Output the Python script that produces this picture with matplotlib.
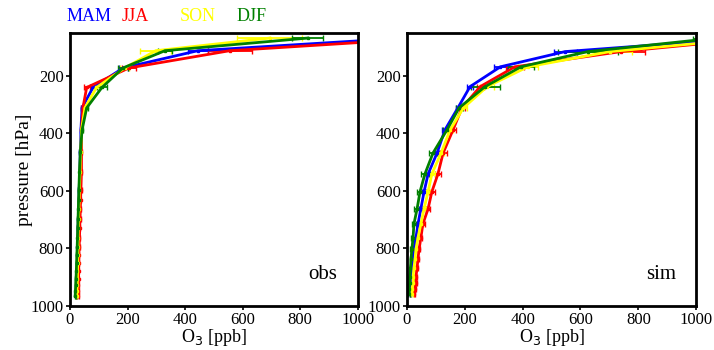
import numpy as np
import matplotlib.pyplot as plt

plt.rcParams['font.family'] = ['Liberation Serif', 'DejaVu Serif']

seasons = ['MAM', 'JJA', 'SON', 'DJF']
colors = ['#0000ff', '#ff0000', '#ffff00', '#008000']

# observations
obs_p = [68, 112, 172, 240, 311, 388, 464, 533, 596, 630, 663, 697, 730, 764,
         795, 824, 852, 880, 905, 928, 948, 965]
obs_mam = [1160, 444, 185, 80, 42, 38, 36, 34, 32, 31, 30, 29, 28, 27, 26, 26, 25, 25, 24, 24, 23, 23]
obs_jja = [1250, 555, 205, 58, 45, 40, 40, 40, 38, 37, 36, 35, 34, 33, 32, 31, 31, 30, 30, 29, 28, 28]
obs_son = [694, 298, 190, 92, 52, 40, 37, 35, 33, 32, 31, 30, 29, 28, 28, 27, 27, 26, 26, 25, 24, 24]
obs_djf = [826, 330, 184, 111, 58, 42, 36, 33, 31, 30, 29, 28, 27, 26, 25, 24, 23, 22, 21, 20, 19, 18]
obs_err_mam = [60, 35, 15, 8, 4, 3, 3, 3, 3, 2, 2, 2, 2, 2, 2, 2, 2, 2, 2, 2, 2, 2]
obs_err_jja = [60, 76, 25, 10, 5, 3, 3, 3, 3, 2, 2, 2, 2, 2, 2, 2, 2, 2, 2, 2, 2, 2]
obs_err_son = [112, 54, 15, 8, 4, 3, 3, 3, 3, 2, 2, 2, 2, 2, 2, 2, 2, 2, 2, 2, 2, 2]
obs_err_djf = [54, 24, 17, 17, 5, 3, 3, 3, 3, 2, 2, 2, 2, 2, 2, 2, 2, 2, 2, 2, 2, 2]

# simulation
sim_p = [70, 115, 168, 237, 311, 388, 468, 541, 603, 662, 715, 763, 802, 836,
         868, 899, 920, 941, 958]
sim_mam = [1150, 547, 323, 218, 176, 131, 104, 73, 59, 48, 38, 31, 24, 21, 19, 17, 14, 14, 12]
sim_jja = [1200, 741, 373, 253, 190, 159, 125, 107, 86, 73, 55, 48, 42, 38, 35, 31, 31, 28, 26]
sim_son = [1180, 702, 418, 277, 195, 149, 118, 86, 73, 59, 48, 38, 31, 28, 24, 21, 21, 17, 17]
sim_djf = [1050, 626, 394, 270, 180, 138, 90, 62, 45, 35, 24, 21, 17, 14, 12, 10, 9, 7, 7]
sim_err_mam = [50, 40, 22, 10, 8, 10, 8, 8, 6, 6, 5, 4, 4, 3, 3, 3, 3, 2, 2]
sim_err_jja = [60, 81, 30, 12, 10, 10, 12, 10, 10, 8, 6, 5, 4, 4, 3, 3, 3, 3, 3]
sim_err_son = [60, 76, 35, 25, 12, 10, 10, 10, 8, 7, 6, 5, 4, 4, 3, 3, 3, 3, 3]
sim_err_djf = [60, 104, 45, 50, 12, 15, 15, 15, 10, 10, 8, 6, 5, 4, 3, 3, 3, 3, 2]

panels = [
    ('obs', obs_p, [obs_mam, obs_jja, obs_son, obs_djf],
     [obs_err_mam, obs_err_jja, obs_err_son, obs_err_djf]),
    ('sim', sim_p, [sim_mam, sim_jja, sim_son, sim_djf],
     [sim_err_mam, sim_err_jja, sim_err_son, sim_err_djf]),
]

fig = plt.figure(figsize=(7.14, 3.5), dpi=100)
ax1 = fig.add_axes([0.098, 0.126, 0.403, 0.78])
ax2 = fig.add_axes([0.570, 0.126, 0.405, 0.78])

for ax, (name, p, vals, errs) in zip([ax1, ax2], panels):
    for v, e, c in zip(vals, errs, colors):
        ax.errorbar(v, p, xerr=e, color=c, lw=2, elinewidth=1.3, capsize=2.5,
                    marker='s', markersize=2, clip_on=True)
    ax.set_xlim(0, 1000)
    ax.set_ylim(1000, 50)
    ax.set_xticks([0, 200, 400, 600, 800, 1000])
    ax.set_yticks([200, 400, 600, 800, 1000])
    ax.tick_params(labelsize=12, width=1.2, length=3, pad=1.5, direction='out')
    for s in ax.spines.values():
        s.set_linewidth(2)
    ax.set_xlabel('O$_3$ [ppb]', fontsize=13, labelpad=-1)
    ax.text(0.93, 0.08, name, transform=ax.transAxes, ha='right', va='bottom',
            fontsize=15)

ax1.set_ylabel('pressure [hPa]', fontsize=14, labelpad=-2)

xs = [0.125, 0.19, 0.277, 0.352]
for x, s, c in zip(xs, seasons, colors):
    fig.text(x, 0.952, s, color=c, fontsize=13, ha='center', va='center')

fig.savefig('out.png', dpi=100)
